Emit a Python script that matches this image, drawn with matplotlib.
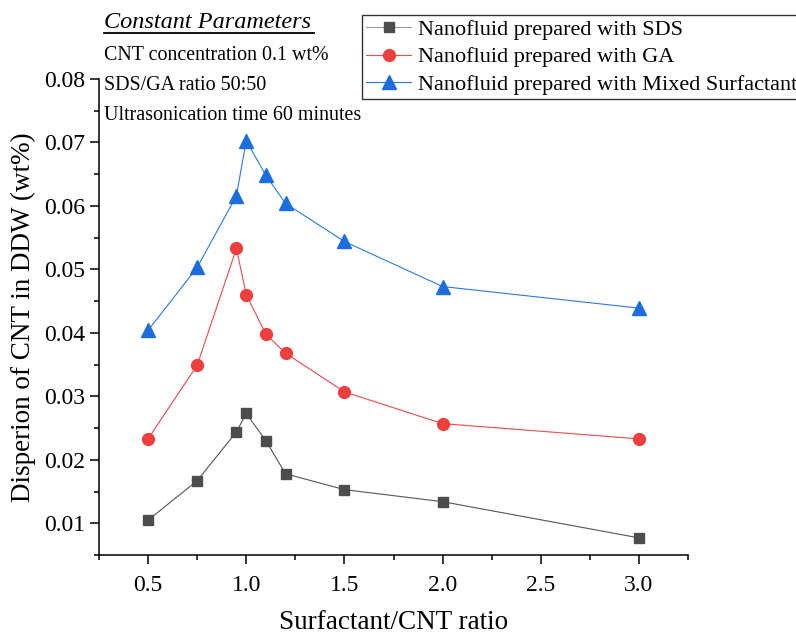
import numpy as np
import matplotlib
matplotlib.use("Agg")
import matplotlib.pyplot as plt
from matplotlib.ticker import MultipleLocator

plt.rcParams['font.family'] = ['Liberation Serif', 'DejaVu Serif']

# данные
ratio = [0.5, 0.75, 0.95, 1.0, 1.1, 1.2, 1.5, 2.0, 3.0]
sds = [0.0105, 0.0167, 0.0244, 0.0273, 0.0230, 0.0178, 0.0153, 0.0134, 0.0077]
ga = [0.0233, 0.0349, 0.0533, 0.0460, 0.0398, 0.0368, 0.0307, 0.0257, 0.0233]
mixed = [0.0404, 0.0503, 0.0616, 0.0703, 0.0648, 0.0604, 0.0544, 0.0473, 0.0439]

labels = ["Nanofluid prepared with SDS",
          "Nanofluid prepared with GA",
          "Nanofluid prepared with Mixed Surfactant"]
notes = ["CNT concentration 0.1 wt%",
         "SDS/GA ratio 50:50",
         "Ultrasonication time 60 minutes"]

fig = plt.figure(figsize=(7.96, 6.35), dpi=100)
ax = fig.add_axes([99/796, 1-555/635, (688-99)/796, (555-79)/635])

ax.plot(ratio, sds, color='#555555', lw=0.8, marker='s', ms=7.5,
        mfc='#4d4d4d', mec='#4d4d4d', label=labels[0])
ax.plot(ratio, ga, color='#f04a4a', lw=0.8, marker='o', ms=8.5,
        mfc='#ef3e3e', mec='#ef3e3e', label=labels[1])
ax.plot(ratio, mixed, color='#2a7ae2', lw=0.8, marker='^', ms=9.5,
        mfc='#1c6de0', mec='#1c6de0', label=labels[2])

ax.set_xlim(0.25, 3.25)
ax.set_ylim(0.005, 0.08)
ax.xaxis.set_major_locator(MultipleLocator(0.5))
ax.xaxis.set_minor_locator(MultipleLocator(0.25))
ax.yaxis.set_major_locator(MultipleLocator(0.01))
ax.yaxis.set_minor_locator(MultipleLocator(0.005))
ax.xaxis.set_major_formatter(plt.FuncFormatter(lambda v, p: f"{v:.1f}"))
ax.yaxis.set_major_formatter(plt.FuncFormatter(lambda v, p: f"{v:.2f}"))

for s in ['top', 'right']:
    ax.spines[s].set_visible(False)
for s in ['left', 'bottom']:
    ax.spines[s].set_linewidth(1.1)
ax.tick_params(which='major', length=6.5, width=1.1, labelsize=17, direction='out')
ax.tick_params(which='minor', length=3.5, width=1.1, direction='out')
ax.tick_params(axis='x', which='major', pad=8)
ax.tick_params(axis='y', which='major', pad=3.5)

ax.set_xlabel("Surfactant/CNT ratio", fontsize=19.5, labelpad=10)
ax.set_ylabel("Disperion of CNT in DDW (wt%)", fontsize=19.5, labelpad=6)

# блок с постоянными параметрами
fig.text(104/796, 1-23/635, "Constant Parameters", fontsize=17.5,
         style='italic', va='center', ha='left')
fig.add_artist(plt.Line2D([104/796, 314/796], [1-33/635, 1-33/635],
                          color='black', lw=1.3))
for i, t in enumerate(notes):
    fig.text(104/796, 1-(55+30*i)/635, t, fontsize=14.4, va='center', ha='left')

leg = fig.legend(loc='upper left', bbox_to_anchor=(362/796, 1-15/635),
                 fontsize=16, frameon=True, fancybox=False, edgecolor='black',
                 borderpad=0.2, labelspacing=0.31, handlelength=2.0,
                 handletextpad=0.3, borderaxespad=0)
leg.get_frame().set_linewidth(1.0)
leg.get_lines()[0].set_color('#999999')

fig.savefig("out.png", dpi=100)
